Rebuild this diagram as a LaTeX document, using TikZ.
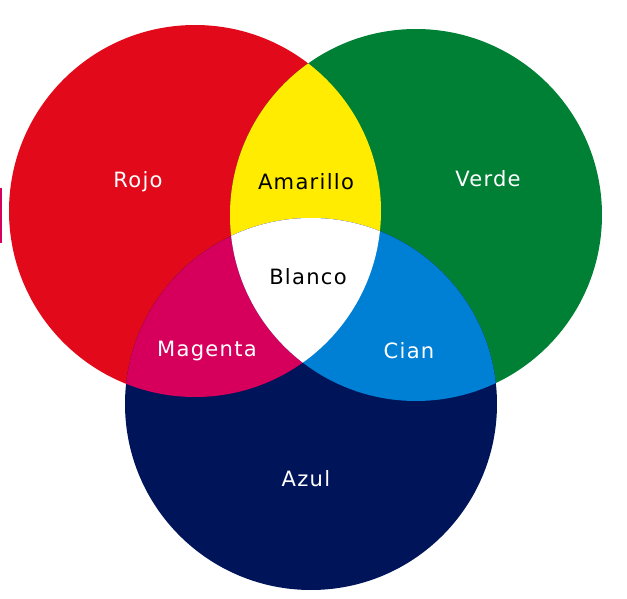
\documentclass[tikz,border=0pt]{standalone}
\usepackage{fontspec}
\newfontfamily\etiqueta[LetterSpace=6]{DejaVu Sans}
\definecolor{rgbRojo}{RGB}{226,10,26}
\definecolor{rgbVerde}{RGB}{0,128,52}
\definecolor{rgbAzul}{RGB}{0,20,90}
\definecolor{rgbAmarillo}{RGB}{255,236,0}
\definecolor{rgbMagenta}{RGB}{214,0,92}
\definecolor{rgbCian}{RGB}{0,128,212}
\usetikzlibrary{positioning}

\begin{document}
\begin{tikzpicture}[
  x=0.02cm, y=-0.02cm,
  lbl/.style={font=\etiqueta\fontsize{12}{14}\selectfont, text=white, inner sep=0pt},
  lblneg/.style={lbl, text=black}
]
  \useasboundingbox (0,0) rectangle (627,599);
  \def\radio{186}
  \coordinate (cRojo) at (195,211);
  \coordinate (cVerde) at (416,215);
  \coordinate (cAzul) at (311,404);

  % circulos primarios
  \fill[rgbRojo] (cRojo) circle (\radio);
  \fill[rgbVerde] (cVerde) circle (\radio);
  \fill[rgbAzul] (cAzul) circle (\radio);

  % mezclas
  \begin{scope}
    \clip (cRojo) circle (\radio);
    \fill[rgbAmarillo] (cVerde) circle (\radio);
    \fill[rgbMagenta] (cAzul) circle (\radio);
  \end{scope}
  \begin{scope}
    \clip (cVerde) circle (\radio);
    \fill[rgbCian] (cAzul) circle (\radio);
  \end{scope}
  \begin{scope}
    \clip (cRojo) circle (\radio);
    \clip (cVerde) circle (\radio);
    \fill[white] (cAzul) circle (\radio);
  \end{scope}

  % borde izquierdo
  \fill[rgbMagenta] (0,188) rectangle (2,243);

  \node[lbl] (rojo) at (138,182) {Rojo};
  \node[lblneg] (amarillo) at (306,182) {Amarillo};
  \node[lbl] (verde) at (488,179) {Verde};
  \node[lblneg] (blanco) at (308,277) {Blanco};
  \node[lbl] (magenta) at (207,351) {Magenta};
  \node[lbl] (cian) at (409,351) {Cian};
  \node[lbl] (azul) at (306,479) {Azul};
\end{tikzpicture}
\end{document}
